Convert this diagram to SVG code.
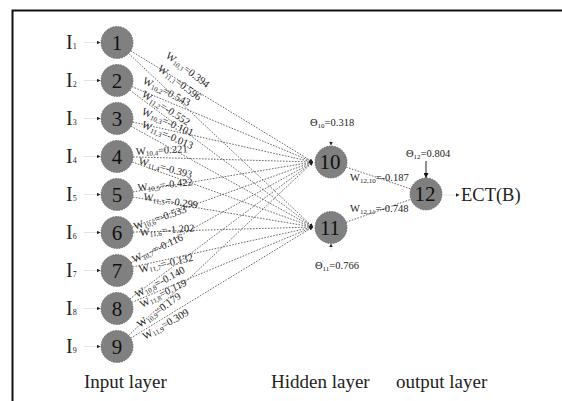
<svg xmlns="http://www.w3.org/2000/svg" width="562" height="401" viewBox="0 0 562 401">
<style>
.node circle{fill:#808080;stroke:#5a5a5a;stroke-width:0.8;stroke-dasharray:1.5 1.2}
.num{font-family:"Liberation Serif","Times New Roman",serif;font-size:21px;fill:#111;text-anchor:middle}
.inl{font-family:"Liberation Serif","Times New Roman",serif;font-size:20px;fill:#222}
.inl tspan{font-size:8px}
.w{font-family:"Liberation Serif","Times New Roman",serif;font-size:10.5px;fill:#222}
.w tspan.s{font-size:7px}
.lay{font-family:"Liberation Serif","Times New Roman",serif;font-size:19px;fill:#222}
.ect{font-family:"Liberation Serif","Times New Roman",serif;font-size:18.5px;fill:#222}
.c{fill:none;stroke:#444;stroke-width:0.8;stroke-dasharray:1.6 1.4}
.in{fill:none;stroke:#ddd;stroke-width:0.8}
.b{fill:none;stroke:#222;stroke-width:1}
</style>
<defs>
<marker id="ah" viewBox="0 0 6 6" refX="6" refY="3" markerWidth="3.5" markerHeight="3.5" markerUnits="userSpaceOnUse" orient="auto">
<path d="M0,0 L6,3 L0,6 z" fill="#222"/>
</marker>
<marker id="ah2" viewBox="0 0 6 6" refX="6" refY="3" markerWidth="5" markerHeight="5" markerUnits="userSpaceOnUse" orient="auto">
<path d="M0,0 L6,3 L0,6 z" fill="#111"/>
</marker>
</defs>
<rect width="562" height="401" fill="#fff"/>
<g id="frame" fill="none" stroke="#111" stroke-width="2">
<path d="M12.5,401 V10.5 H562"/>
</g>
<g id="connectors">
<path class="c" marker-end="url(#ah)" d="M130.7,50.8 L313,162"/>
<path class="c" marker-end="url(#ah)" d="M128.6,53.5 L313,227"/>
<path class="c" marker-end="url(#ah)" d="M131.8,86.6 L313,162"/>
<path class="c" marker-end="url(#ah)" d="M129.8,90.1 L313,227"/>
<path class="c" marker-end="url(#ah)" d="M132.6,122 L313,162"/>
<path class="c" marker-end="url(#ah)" d="M131,126.2 L313,227"/>
<path class="c" marker-end="url(#ah)" d="M133,156.9 L313,162"/>
<path class="c" marker-end="url(#ah)" d="M132.1,161.9 L313,227"/>
<path class="c" marker-end="url(#ah)" d="M132.8,191.9 L313,162"/>
<path class="c" marker-end="url(#ah)" d="M132.8,197.1 L313,227"/>
<path class="c" marker-end="url(#ah)" d="M132.1,227.1 L313,162"/>
<path class="c" marker-end="url(#ah)" d="M133,232.1 L313,227"/>
<path class="c" marker-end="url(#ah)" d="M131,262.8 L313,162"/>
<path class="c" marker-end="url(#ah)" d="M132.6,267 L313,227"/>
<path class="c" marker-end="url(#ah)" d="M129.8,298.9 L313,162"/>
<path class="c" marker-end="url(#ah)" d="M131.8,302.4 L313,227"/>
<path class="c" marker-end="url(#ah)" d="M128.6,335.5 L313,162"/>
<path class="c" marker-end="url(#ah)" d="M130.7,338.2 L313,227"/>
<path class="c" d="M346.2,167.1 L410.8,188.9"/>
<path class="c" d="M346.1,222.2 L410.9,199.3"/>
<path class="in" marker-end="url(#ah)" d="M84,42.5 H100.5"/>
<path class="in" marker-end="url(#ah)" d="M84,80.5 H100.5"/>
<path class="in" marker-end="url(#ah)" d="M84,118.5 H100.5"/>
<path class="in" marker-end="url(#ah)" d="M84,156.5 H100.5"/>
<path class="in" marker-end="url(#ah)" d="M84,194.5 H100.5"/>
<path class="in" marker-end="url(#ah)" d="M84,232.5 H100.5"/>
<path class="in" marker-end="url(#ah)" d="M84,270.5 H100.5"/>
<path class="in" marker-end="url(#ah)" d="M84,308.5 H100.5"/>
<path class="in" marker-end="url(#ah)" d="M84,346.5 H100.5"/>
<path class="in" marker-end="url(#ah)" d="M331,139 V145.5"/>
<path class="in" marker-end="url(#ah)" d="M331,251 V243.5"/>
<path class="b" marker-end="url(#ah2)" d="M426,161 V178"/>
<path class="in" marker-end="url(#ah)" d="M443,195 H459.5"/>
</g>
<g id="weights">
<text class="w" transform="translate(165,57) rotate(37)">W<tspan class="s" dy="1.5">10,1</tspan><tspan dy="-1.5">=0.394</tspan></text>
<text class="w" transform="translate(157,70) rotate(37)">W<tspan class="s" dy="1.5">11,1</tspan><tspan dy="-1.5">=0.596</tspan></text>
<text class="w" transform="translate(142,83) rotate(27)">W<tspan class="s" dy="1.5">10,2</tspan><tspan dy="-1.5">=0.543</tspan></text>
<text class="w" transform="translate(141,96) rotate(33)">W<tspan class="s" dy="1.5">11,2</tspan><tspan dy="-1.5">=-0.552</tspan></text>
<text class="w" transform="translate(141,114) rotate(24)">W<tspan class="s" dy="1.5">10,3</tspan><tspan dy="-1.5">=-0.101</tspan></text>
<text class="w" transform="translate(141,127) rotate(24)">W<tspan class="s" dy="1.5">11,3</tspan><tspan dy="-1.5">=-0.013</tspan></text>
<text class="w" transform="translate(136,155) rotate(-3)">W<tspan class="s" dy="1.5">10,4</tspan><tspan dy="-1.5">=0.221</tspan></text>
<text class="w" transform="translate(138,164) rotate(15)">W<tspan class="s" dy="1.5">11,4</tspan><tspan dy="-1.5">=-0.393</tspan></text>
<text class="w" transform="translate(138,191) rotate(-6)">W<tspan class="s" dy="1.5">10,5</tspan><tspan dy="-1.5">=-0.422</tspan></text>
<text class="w" transform="translate(143,200) rotate(9)">W<tspan class="s" dy="1.5">11,5</tspan><tspan dy="-1.5">=-0.299</tspan></text>
<text class="w" transform="translate(135,230) rotate(-19)">W<tspan class="s" dy="1.5">10,6</tspan><tspan dy="-1.5">=-0.533</tspan></text>
<text class="w" transform="translate(140,236) rotate(-5)">W<tspan class="s" dy="1.5">11,6</tspan><tspan dy="-1.5">=-1.202</tspan></text>
<text class="w" transform="translate(134,263) rotate(-25)">W<tspan class="s" dy="1.5">10,7</tspan><tspan dy="-1.5">=-0.116</tspan></text>
<text class="w" transform="translate(140,273) rotate(-13)">W<tspan class="s" dy="1.5">11,7</tspan><tspan dy="-1.5">=-0.132</tspan></text>
<text class="w" transform="translate(137,298) rotate(-28)">W<tspan class="s" dy="1.5">10,8</tspan><tspan dy="-1.5">=-0.140</tspan></text>
<text class="w" transform="translate(142,308) rotate(-27)">W<tspan class="s" dy="1.5">11,8</tspan><tspan dy="-1.5">=0.119</tspan></text>
<text class="w" transform="translate(140,328) rotate(-36)">W<tspan class="s" dy="1.5">10,9</tspan><tspan dy="-1.5">=0.179</tspan></text>
<text class="w" transform="translate(145,340) rotate(-30)">W<tspan class="s" dy="1.5">11,9</tspan><tspan dy="-1.5">=0.309</tspan></text>
<text class="w" x="350" y="181">W<tspan class="s" dy="1.5">12,10</tspan><tspan dy="-1.5">=-0.187</tspan></text>
<text class="w" x="350" y="212">W<tspan class="s" dy="1.5">12,11</tspan><tspan dy="-1.5">=-0.748</tspan></text>
<text class="w" x="310" y="126">Θ<tspan class="s" dy="1.5">10</tspan><tspan dy="-1.5">=0.318</tspan></text>
<text class="w" x="315" y="269">Θ<tspan class="s" dy="1.5">11</tspan><tspan dy="-1.5">=0.766</tspan></text>
<text class="w" x="406" y="157">Θ<tspan class="s" dy="1.5">12</tspan><tspan dy="-1.5">=0.804</tspan></text>
</g>
<g id="inputs-labels">
<text class="inl" x="66" y="49">I<tspan>1</tspan></text>
<text class="inl" x="66" y="87">I<tspan>2</tspan></text>
<text class="inl" x="66" y="125">I<tspan>3</tspan></text>
<text class="inl" x="66" y="163">I<tspan>4</tspan></text>
<text class="inl" x="66" y="201">I<tspan>5</tspan></text>
<text class="inl" x="66" y="239">I<tspan>6</tspan></text>
<text class="inl" x="66" y="277">I<tspan>7</tspan></text>
<text class="inl" x="66" y="315">I<tspan>8</tspan></text>
<text class="inl" x="66" y="353">I<tspan>9</tspan></text>
</g>
<g id="n1" class="node"><circle cx="117" cy="42.5" r="16"/><text class="num" x="117" y="49.5">1</text></g>
<g id="n2" class="node"><circle cx="117" cy="80.5" r="16"/><text class="num" x="117" y="87.5">2</text></g>
<g id="n3" class="node"><circle cx="117" cy="118.5" r="16"/><text class="num" x="117" y="125.5">3</text></g>
<g id="n4" class="node"><circle cx="117" cy="156.5" r="16"/><text class="num" x="117" y="163.5">4</text></g>
<g id="n5" class="node"><circle cx="117" cy="194.5" r="16"/><text class="num" x="117" y="201.5">5</text></g>
<g id="n6" class="node"><circle cx="117" cy="232.5" r="16"/><text class="num" x="117" y="239.5">6</text></g>
<g id="n7" class="node"><circle cx="117" cy="270.5" r="16"/><text class="num" x="117" y="277.5">7</text></g>
<g id="n8" class="node"><circle cx="117" cy="308.5" r="16"/><text class="num" x="117" y="315.5">8</text></g>
<g id="n9" class="node"><circle cx="117" cy="346.5" r="16"/><text class="num" x="117" y="353.5">9</text></g>
<g id="n10" class="node"><circle cx="331" cy="162" r="16"/><text class="num" x="330" y="169">10</text></g>
<g id="n11" class="node"><circle cx="331" cy="227.5" r="16"/><text class="num" x="330" y="234.5">11</text></g>
<g id="n12" class="node"><circle cx="426" cy="194" r="16"/><text class="num" x="425" y="201">12</text></g>
<g id="out"><text class="ect" x="461" y="201">ECT(B)</text></g>
<g id="layers">
<text class="lay" x="84" y="388">Input layer</text>
<text class="lay" x="271" y="388">Hidden layer</text>
<text class="lay" x="396" y="388">output layer</text>
</g>
</svg>
